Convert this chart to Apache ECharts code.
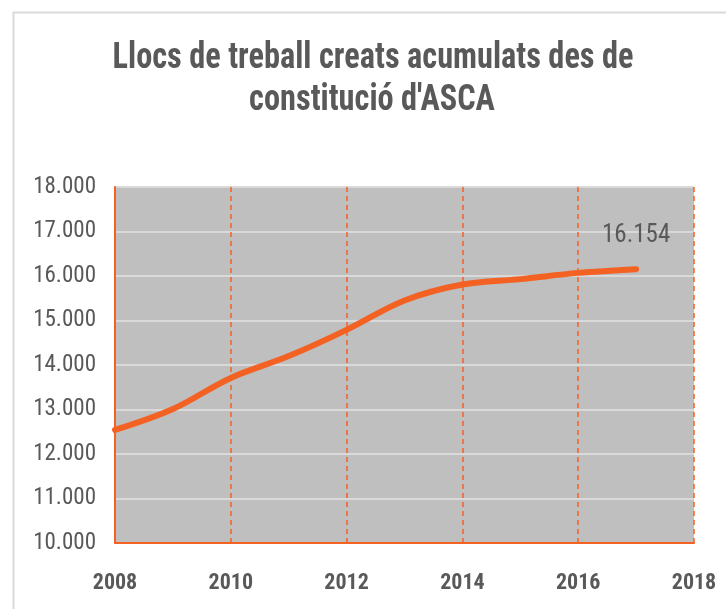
<!DOCTYPE html>
<html>
<head>
<meta charset="utf-8">
<script src="https://cdn.jsdelivr.net/npm/echarts@6/dist/echarts.min.js"></script>
<style>
html,body{margin:0;padding:0;background:#fff;}
#chart{width:726px;height:609px;}
</style>
</head>
<body>
<div id="chart"></div>
<script>
const titleLines = ["Llocs de treball creats acumulats des de", "constitució d'ASCA"];
const years = [2008, 2009, 2010, 2011, 2012, 2013, 2014, 2015, 2016, 2017];
const jobs = [12540, 13010, 13710, 14200, 14790, 15450, 15810, 15930, 16070, 16154];
const lastLabel = "16.154";
const xTicks = [2008, 2010, 2012, 2014, 2016, 2018];
const yMin = 10000, yMax = 18000, yStep = 1000;

const FONT = "'Roboto Condensed', 'Liberation Sans Narrow', sans-serif";
const ORANGE = '#F36223';
const GREY = '#595959';

const seriesData = years.map((y, i) => {
  const item = { value: [y, jobs[i]] };
  if (i === years.length - 1) {
    item.label = {
      show: true, position: 'top', distance: 21,
      formatter: lastLabel, color: GREY, fontSize: 25, fontFamily: FONT
    };
  }
  return item;
});

const chart = echarts.init(document.getElementById('chart'), null, { renderer: 'canvas' });
chart.setOption({
  backgroundColor: '#ffffff',
  animation: false,
  graphic: [
    { type: 'rect', left: 11, top: 10, shape: { width: 800, height: 700 }, style: { fill: 'none', stroke: '#d9d9d9', lineWidth: 2 }, silent: true, z: -10 },
    { type: 'text', x: 373, y: 58.5, scaleX: 0.874, style: { text: titleLines[0], textAlign: 'center', textVerticalAlign: 'middle', fill: GREY, font: "bold 37px " + FONT } },
    { type: 'text', x: 372, y: 100.5, scaleX: 0.874, style: { text: titleLines[1], textAlign: 'center', textVerticalAlign: 'middle', fill: GREY, font: "bold 37px " + FONT } }
  ],
  grid: {
    left: 115, right: 32, top: 187, bottom: 66,
    show: true, backgroundColor: '#bfbfbf', borderWidth: 0
  },
  xAxis: {
    type: 'value', min: xTicks[0], max: xTicks[xTicks.length - 1], interval: 2,
    axisLine: { show: true, lineStyle: { color: ORANGE, width: 2 } },
    axisTick: { show: false },
    axisLabel: {
      color: GREY, fontSize: 22, fontWeight: 'bold', fontFamily: FONT, margin: 29,
      formatter: v => String(v)
    },
    splitLine: { show: true, lineStyle: { color: ORANGE, width: 1.5, type: [5, 4] } }
  },
  yAxis: {
    type: 'value', min: yMin, max: yMax, interval: yStep,
    axisLine: { show: true, lineStyle: { color: ORANGE, width: 2 } },
    axisTick: { show: false },
    axisLabel: {
      color: GREY, fontSize: 23, fontFamily: FONT, margin: 19,
      formatter: v => (v / 1000).toFixed(3)
    },
    splitLine: { show: true, lineStyle: { color: '#d9d9d9', width: 2 } }
  },
  series: [{
    type: 'line',
    data: seriesData,
    smooth: 0.35,
    symbol: 'circle',
    symbolSize: 0.1,
    showSymbol: true,
    itemStyle: { color: ORANGE },
    lineStyle: { color: ORANGE, width: 6, cap: 'round', join: 'round' },
    z: 5
  }]
});
</script>
</body>
</html>
